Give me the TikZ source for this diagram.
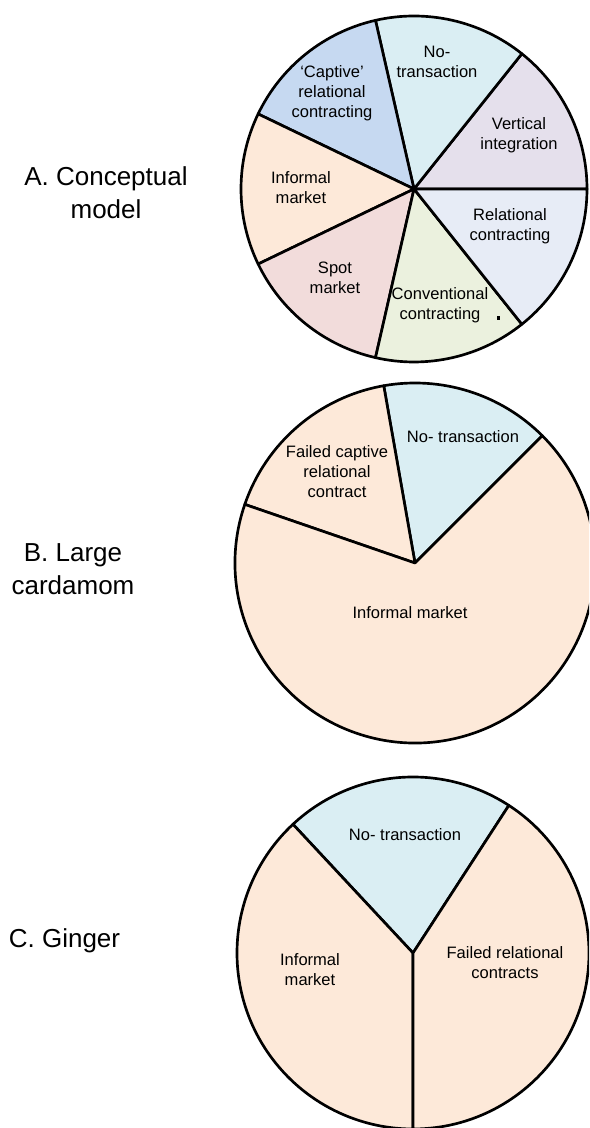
\documentclass[tikz,border=0pt]{standalone}
\usepackage{fontspec}
\setmainfont{Liberation Sans}

\definecolor{notrans}{HTML}{DAEEF3}
\definecolor{captive}{HTML}{C6D9F1}
\definecolor{vertint}{HTML}{E5E0EC}
\definecolor{relcon}{HTML}{E7ECF6}
\definecolor{convcon}{HTML}{EBF1DE}
\definecolor{spotmkt}{HTML}{F2DCDB}
\definecolor{infmkt}{HTML}{FDE9D9}

\tikzset{
  slice/.style={draw=black, line width=2pt, line join=round},
  lbl/.style={align=center, inner sep=0pt, font=\fontsize{12.4}{15}\selectfont},
  side/.style={align=center, inner sep=0pt, font=\fontsize{19.5}{24.5}\selectfont},
}

% centre, radius, start angle, end angle, colour
\newcommand{\pieslice}[5]{%
  \filldraw[slice, fill=#5] (#1) -- ++(#3:#2) arc[start angle=#3, end angle=#4, radius=#2] -- cycle;}

\begin{document}
\begin{tikzpicture}[x=0.75pt, y=0.75pt]

  \useasboundingbox (0,0) rectangle (589,1128);
  \clip (0,0) rectangle (589,1128);

  \coordinate (ca) at (414,939);
  \coordinate (cb) at (415,565);
  \coordinate (cc) at (413,175);

  % Pie A: seven equal slices
  \pieslice{ca}{173}{0}{51.43}{vertint}
  \pieslice{ca}{173}{51.43}{102.86}{notrans}
  \pieslice{ca}{173}{102.86}{154.29}{captive}
  \pieslice{ca}{173}{154.29}{205.71}{infmkt}
  \pieslice{ca}{173}{205.71}{257.14}{spotmkt}
  \pieslice{ca}{173}{257.14}{308.57}{convcon}
  \pieslice{ca}{173}{308.57}{360}{relcon}
  \fill[black] (497,808) rectangle (499.5,811.5);

  % Pie B
  \pieslice{cb}{180}{45}{100}{notrans}
  \pieslice{cb}{180}{100}{161}{infmkt}
  \pieslice{cb}{180}{161}{405}{infmkt}

  % Pie C
  \pieslice{cc}{176}{57}{133}{notrans}
  \pieslice{cc}{176}{133}{270}{infmkt}
  \pieslice{cc}{176}{-90}{57}{infmkt}

  % Labels of pie A
  \node[lbl] (a-nt) at (437,1066) {No-\\transaction};
  \node[lbl] (a-cap) at (332,1035) {‘Captive’\\relational\\contracting};
  \node[lbl] (a-vi) at (519,993) {Vertical\\integration};
  \node[lbl] (a-im) at (301,940) {Informal\\market};
  \node[lbl] (a-rc) at (510,902) {Relational\\contracting};
  \node[lbl] (a-sm) at (335,850) {Spot\\market};
  \node[lbl] (a-cc) at (440,823) {Conventional\\contracting};

  % Labels of pie B
  \node[lbl] (b-nt) at (463,691) {No- transaction};
  \node[lbl] (b-fc) at (337,656) {Failed captive\\relational\\contract};
  \node[lbl] (b-im) at (410,515) {Informal market};

  % Labels of pie C
  \node[lbl] (c-nt) at (405,293) {No- transaction};
  \node[lbl] (c-im) at (310,158) {Informal\\market};
  \node[lbl] (c-fr) at (505,165) {Failed relational\\contracts};

  % Side titles
  \node[side] (title-a) at (106,935) {A. Conceptual\\model};
  \node[side] (title-b) at (73,559) {B. Large\\cardamom};
  \node[side, anchor=base] (title-c) at (64.5,180) {C. Ginger};

\end{tikzpicture}
\end{document}
